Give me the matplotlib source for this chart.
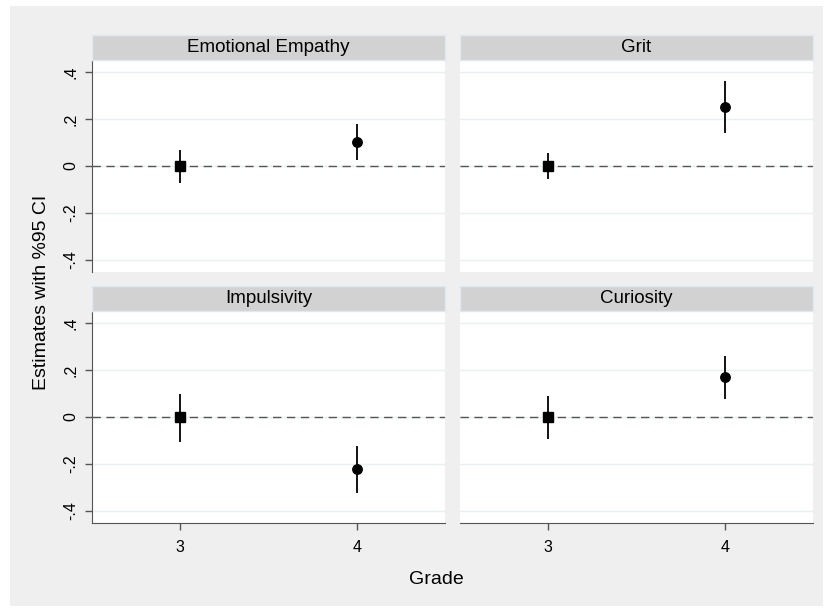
import matplotlib
matplotlib.use("Agg")
import matplotlib.pyplot as plt
from matplotlib.patches import Rectangle

plt.rcParams['font.family'] = ['Liberation Sans', 'DejaVu Sans']

panels = ["Emotional Empathy", "Grit", "Impulsivity", "Curiosity"]
grades = [3, 4]
est = {
    "Emotional Empathy": [0.0, 0.102],
    "Grit": [0.0, 0.250],
    "Impulsivity": [0.0, -0.223],
    "Curiosity": [0.0, 0.169],
}
ci_lo = {
    "Emotional Empathy": [-0.071, 0.026],
    "Grit": [-0.057, 0.139],
    "Impulsivity": [-0.108, -0.325],
    "Curiosity": [-0.095, 0.077],
}
ci_hi = {
    "Emotional Empathy": [0.068, 0.177],
    "Grit": [0.054, 0.362],
    "Impulsivity": [0.100, -0.122],
    "Curiosity": [0.089, 0.260],
}
yticks = [-0.4, -0.2, 0.0, 0.2, 0.4]
yticklabels = ["-.4", "-.2", "0", ".2", ".4"]
markers = ["s", "o"]

W, H = 832, 608
fig = plt.figure(figsize=(W / 100, H / 100), dpi=100, facecolor="white")
fig.patches.append(Rectangle((10 / W, 1 - 606 / H), 813 / W, 600 / H,
                             transform=fig.transFigure, facecolor="#efefef",
                             edgecolor="none", zorder=-10))

def fx(px):
    return px / W

def fy(py):
    return 1 - py / H

lefts = [92, 460]
rights = [445, 813]
tops = [61, 312]
bottoms = [272, 523]

for i, name in enumerate(panels):
    r, c = divmod(i, 2)
    l, rt = lefts[c], rights[c]
    t, b = tops[r], bottoms[r]
    ax = fig.add_axes([fx(l), fy(b), fx(rt - l), (b - t) / H])
    ax.set_facecolor("white")
    ax.set_xlim(2.5, 4.5)
    ax.set_ylim(-0.451, 0.447)
    for yv in yticks:
        ax.axhline(yv, color="#e8f0f3", lw=1.0, zorder=0)
    ax.axhline(0, color="#555555", lw=1.0, dashes=(6, 4), zorder=1)
    for j, g in enumerate(grades):
        ax.plot([g, g], [ci_lo[name][j], ci_hi[name][j]], color="black", lw=1.3, zorder=2,
                solid_capstyle="butt")
        ax.plot([g], [est[name][j]], marker=markers[j], color="black", ms=6.8,
                linestyle="none", zorder=3)
    for s in ["top", "right"]:
        ax.spines[s].set_visible(False)
    ax.spines["left"].set_color("#555555")
    ax.spines["bottom"].set_color("#555555")
    ax.set_yticks(yticks)
    ax.set_xticks(grades)
    if c == 0:
        ax.set_yticklabels(yticklabels, rotation=90, va="center", fontsize=11.5)
        ax.tick_params(axis="y", length=5, width=1, color="#555555", pad=5)
    else:
        ax.spines["left"].set_visible(False)
        ax.tick_params(axis="y", left=False, labelleft=False)
    if r == 1:
        ax.set_xticklabels([str(g) for g in grades], fontsize=11.5)
        ax.tick_params(axis="x", length=5, width=1, color="#555555", pad=7)
    else:
        ax.spines["bottom"].set_visible(False)
        ax.tick_params(axis="x", bottom=False, labelbottom=False)
    # strip
    st = fig.add_axes([fx(l), fy(t - 1), fx(rt - l), 25 / H])
    st.set_facecolor("#d2d2d2")
    st.set_xticks([])
    st.set_yticks([])
    for s in st.spines.values():
        s.set_color("#e2e9ee")
        s.set_linewidth(1)
    st.text(0.5, 0.5, name, ha="center", va="center", fontsize=13.5,
            transform=st.transAxes)

fig.text(fx(436), fy(579), "Grade", ha="center", va="center", fontsize=14)
fig.text(fx(42), fy(292), "Estimates with %95 CI", ha="center", va="center",
         rotation=90, fontsize=14)

fig.savefig("out.png", dpi=100, facecolor=fig.get_facecolor())
